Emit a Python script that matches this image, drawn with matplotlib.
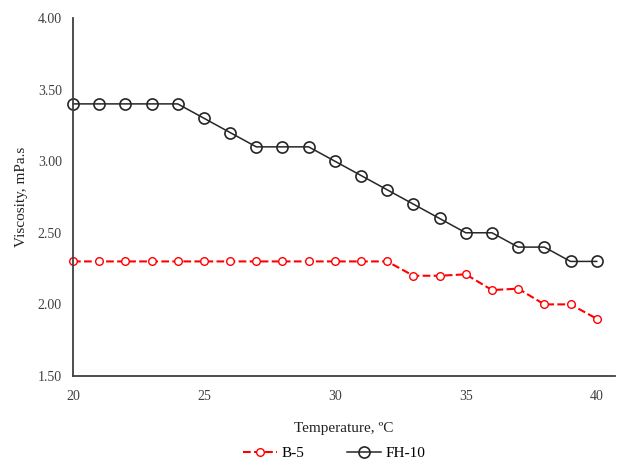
import matplotlib.pyplot as plt

plt.rcParams['font.family'] = ['Liberation Serif', 'DejaVu Serif']

temperature = list(range(20, 41))
fh10 = [3.40, 3.40, 3.40, 3.40, 3.40, 3.30, 3.20, 3.10, 3.10, 3.10, 3.00,
        2.90, 2.80, 2.70, 2.60, 2.50, 2.50, 2.40, 2.40, 2.30, 2.30]
b5 = [2.30, 2.30, 2.30, 2.30, 2.30, 2.30, 2.30, 2.30, 2.30, 2.30, 2.30,
      2.30, 2.30, 2.20, 2.20, 2.21, 2.10, 2.11, 2.00, 2.00, 1.90]

fig = plt.figure(figsize=(6.43, 4.68), dpi=100)
ax = fig.add_axes([0.1135, 0.1966, 0.843, 0.765])

ax.plot(temperature, b5, color='red', linestyle='--', linewidth=1.5,
        marker='o', markersize=5.5, markerfacecolor='white',
        markeredgecolor='red', markeredgewidth=1.0, label='B-5', clip_on=False)
ax.plot(temperature, fh10, color='#262626', linestyle='-', linewidth=1.1,
        marker='o', markersize=8, markerfacecolor='none',
        markeredgecolor='#262626', markeredgewidth=1.2, label='FH-10', clip_on=False)

ax.set_xlim(20, 40.7)
ax.set_ylim(1.5, 4.0)
ax.set_xticks([20, 25, 30, 35, 40])
ax.set_yticks([1.5, 2.0, 2.5, 3.0, 3.5, 4.0])
ax.set_yticklabels([f'{v:.2f}' for v in ax.get_yticks()])
ax.tick_params(length=0, labelsize=10, colors='#404040')
ax.tick_params(axis='x', pad=10)
ax.tick_params(axis='y', pad=8)

for side in ['top', 'right']:
    ax.spines[side].set_visible(False)
for side in ['left', 'bottom']:
    ax.spines[side].set_color('#404040')
    ax.spines[side].set_linewidth(1.3)

ax.set_xlabel('Temperature, ºC', fontsize=11, color='#222222', labelpad=14)
ax.set_ylabel('Viscosity, mPa.s', fontsize=11, color='#222222', labelpad=7)

fig.legend(loc='lower center', ncol=2, frameon=False, fontsize=11,
           bbox_to_anchor=(0.52, -0.012), handlelength=2.2, handletextpad=0.3,
           columnspacing=2.8)

fig.savefig('out.png', dpi=100)
